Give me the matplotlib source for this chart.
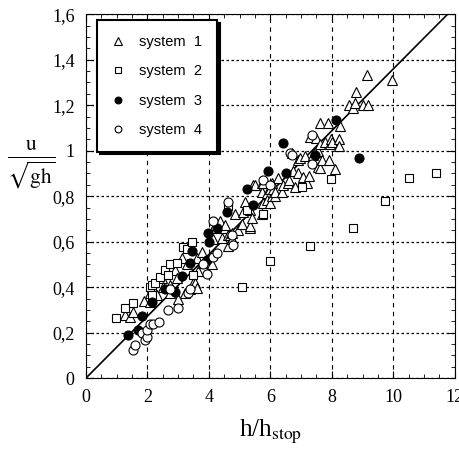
# plot.py — u/sqrt(gh) vs h/h_stop for four systems, with the linear flow rule.
import numpy as np, matplotlib
matplotlib.use("Agg")
import matplotlib.pyplot as plt
from matplotlib.ticker import MultipleLocator, FuncFormatter

plt.rcParams["font.family"] = ["Liberation Serif", "DejaVu Serif"]
plt.rcParams["mathtext.fontset"] = "stix"

beta = 0.136

x1 = [1.27, 1.43, 1.52, 1.9, 2.08, 2.08, 2.15, 2.3, 2.47, 2.5, 2.73, 2.73, 2.9, 2.96, 3.0,
      3.12, 3.22, 3.28, 3.38, 3.48, 3.55, 3.6, 3.6, 3.64, 3.77, 3.8, 4.1, 4.13, 4.2, 4.2,
      4.36, 4.42, 4.52, 4.52, 4.62, 4.62, 4.68, 4.75, 4.75, 4.85, 4.94, 5.07, 5.1, 5.17,
      5.33, 5.33, 5.33, 5.4, 5.43, 5.5, 5.72, 5.72, 5.72, 5.76, 5.77, 5.89, 5.9, 5.98,
      5.98, 6.05, 6.05, 6.1, 6.15, 6.15, 6.24, 6.37, 6.4, 6.57, 6.6, 6.7, 6.73, 6.8, 6.9,
      6.9, 6.96, 7.05, 7.06, 7.12, 7.19, 7.26, 7.28, 7.4, 7.45, 7.5, 7.55, 7.55, 7.6, 7.6,
      7.6, 7.67, 7.77, 7.87, 7.9, 7.94, 7.97, 8.0, 8.1, 8.23, 8.23, 8.26, 8.55, 8.7, 8.75,
      8.8, 9.0, 9.14, 9.17, 9.95]
y1 = [0.28, 0.27, 0.29, 0.34, 0.335, 0.375, 0.40, 0.365, 0.44, 0.40, 0.41, 0.375, 0.475, 0.44, 0.35,
      0.53, 0.375, 0.50, 0.39, 0.42, 0.42, 0.53, 0.395, 0.47, 0.555, 0.505, 0.50, 0.61, 0.66, 0.675,
      0.69, 0.615, 0.66, 0.675, 0.63, 0.58, 0.63, 0.64, 0.61, 0.72, 0.65, 0.68, 0.73, 0.775,
      0.74, 0.66, 0.67, 0.705, 0.85, 0.85, 0.82, 0.72, 0.86, 0.77, 0.86, 0.815, 0.785, 0.77,
      0.83, 0.80, 0.86, 0.83, 0.80, 0.82, 0.88, 0.82, 0.85, 0.86, 0.87, 0.99, 0.91, 0.84, 0.90,
      0.96, 0.97, 0.86, 0.885, 0.975, 0.86, 0.89, 1.06, 0.98, 0.995, 1.055, 0.93, 1.0, 1.12, 0.925,
      1.03, 0.96, 1.04, 1.12, 0.96, 1.03, 1.05, 1.04, 0.92, 1.05, 1.02, 1.11, 1.20, 1.19, 1.21,
      1.26, 1.20, 1.335, 1.20, 1.31]

x2 = [0.98, 1.27, 1.53, 2.08, 2.15, 2.15, 2.24, 2.4, 2.57, 2.67, 2.73, 2.96, 3.15, 3.28, 3.45,
      3.48, 4.62, 5.07, 5.23, 5.77, 5.98, 7.02, 7.28, 7.97, 8.7, 9.72, 10.5, 11.4]
y2 = [0.265, 0.31, 0.33, 0.40, 0.365, 0.41, 0.42, 0.445, 0.475, 0.455, 0.50, 0.505, 0.575, 0.57, 0.60,
      0.455, 0.755, 0.40, 0.74, 0.72, 0.515, 0.84, 0.58, 0.876, 0.66, 0.78, 0.88, 0.90]

x3 = [1.37, 1.7, 1.84, 2.15, 2.57, 2.9, 3.12, 3.38, 3.45, 3.93, 3.96, 4.0, 4.26, 4.58, 5.23,
      5.43, 5.92, 6.4, 6.5, 7.45, 8.15, 8.88]
y3 = [0.19, 0.21, 0.275, 0.335, 0.39, 0.38, 0.45, 0.505, 0.56, 0.52, 0.64, 0.60, 0.66, 0.73, 0.83,
      0.76, 0.91, 1.035, 0.90, 0.98, 1.135, 0.97]

x4 = [1.53, 1.6, 1.82, 1.92, 1.98, 1.98, 2.08, 2.18, 2.37, 2.67, 2.73, 3.0, 3.32, 3.38, 3.8,
      3.93, 4.13, 4.13, 4.26, 4.62, 4.75, 4.78, 5.77, 5.98, 6.64, 6.7, 7.35, 7.35]
y4 = [0.123, 0.145, 0.20, 0.167, 0.18, 0.21, 0.24, 0.24, 0.245, 0.30, 0.39, 0.31, 0.375, 0.39, 0.50,
      0.46, 0.535, 0.69, 0.55, 0.775, 0.63, 0.585, 0.87, 0.85, 0.99, 0.98, 1.07, 0.94]

fig = plt.figure(figsize=(4.59, 4.59), dpi=100)
ax = fig.add_axes([0.187, 0.176, 0.804, 0.793])

xl = np.array([0, 12])
ax.plot(xl, beta * xl, color="black", lw=1.2, zorder=1)

kw = dict(ls="none", mec="black", mew=0.8)
ax.plot(x1, y1, marker="^", ms=7, mfc="white", label="system  1", **kw)
ax.plot(x2, y2, marker="s", ms=6, mfc="white", label="system  2", **kw)
ax.plot(x3, y3, marker="o", ms=6.5, mfc="black", label="system  3", **kw)
ax.plot(x4, y4, marker="o", ms=6.5, mfc="white", label="system  4", **kw)

ax.set_xlim(0, 12); ax.set_ylim(0, 1.6)
ax.xaxis.set_major_locator(MultipleLocator(2)); ax.xaxis.set_minor_locator(MultipleLocator(0.5))
ax.yaxis.set_major_locator(MultipleLocator(0.2)); ax.yaxis.set_minor_locator(MultipleLocator(0.05))
ax.yaxis.set_major_formatter(FuncFormatter(lambda v, p: "0" if v == 0 else ("1" if abs(v - 1) < 1e-9 else f"{v:.1f}".replace(".", ","))))
ax.tick_params(which="both", direction="in", top=True, right=True, labelsize=13, colors="black")
ax.tick_params(which="major", length=5, pad=8)
ax.tick_params(which="minor", length=3)
for s in ax.spines.values(): s.set_linewidth(0.8)

ax.grid(axis="y", which="major", color="black", ls=(0, (2, 2)), lw=0.9)
ax.grid(axis="x", which="major", color="black", ls=(0, (4, 4)), lw=0.8)
ax.set_axisbelow(True)

leg = ax.legend(loc="upper left", bbox_to_anchor=(0.03, 0.983), borderaxespad=0,
                prop={"family": "Liberation Sans", "size": 10.5},
                frameon=True, fancybox=False, shadow={"color": "black", "alpha": 1},
                edgecolor="black", framealpha=1, handlelength=0.9, handletextpad=1.0,
                labelspacing=1.05, borderpad=1.0, numpoints=1, markerscale=0.75)
leg.get_frame().set_linewidth(1.5)

ax.set_xlabel(r"h/h$_{\mathrm{stop}}$", fontsize=18, labelpad=8)
fig.text(0.068, 0.64, r"$\frac{\mathrm{u}}{\sqrt{\mathrm{gh}}}$", fontsize=22, ha="center", va="center")

plt.savefig("out.png", dpi=100)
